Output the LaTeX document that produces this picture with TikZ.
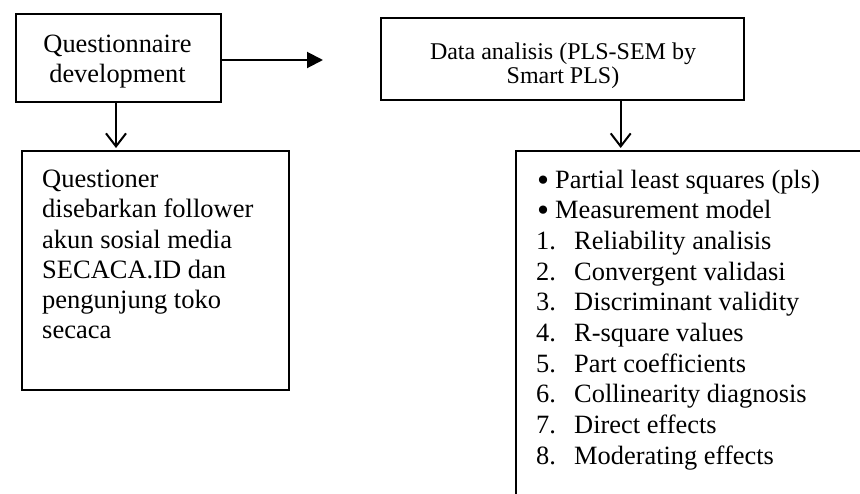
\documentclass[tikz,border=0pt]{standalone}
\usepackage{fontspec}
\setmainfont{Liberation Serif}
\usetikzlibrary{arrows.meta}
\tikzset{
  box/.style={draw, line width=2.4pt, rectangle, inner sep=0pt, anchor=north west},
  txt/.style={inner sep=0pt, anchor=base west, align=left},
  downarr/.style={line width=2pt, -{Straight Barb[length=13pt,width=20pt,line width=2pt]}},
  rightarr/.style={line width=2pt, -{Triangle[length=16pt,width=16pt]}}
}
\newcommand{\bigbul}{\makebox[18pt][l]{\raisebox{-3pt}{\scalebox{1.3}{•}}}}
\begin{document}
\begin{tikzpicture}[x=1pt,y=-1pt]
\path[use as bounding box, clip] (0,0) rectangle (860,493);
% boxes
\node[box, minimum width=205pt, minimum height=88pt] (b1) at (15,13) {};
\node[box, minimum width=267pt, minimum height=239pt] (b2) at (21,150) {};
\node[box, minimum width=363pt, minimum height=82pt] (b3) at (380,17) {};
\node[box, minimum width=400pt, minimum height=400pt] (b4) at (515,150) {};
% texts (base anchor = baseline of the last line)
\node[inner sep=0pt, anchor=base, align=center, font=\fontsize{26.4pt}{30pt}\selectfont] (t1) at (117.5,82.7) {Questionnaire\\development};
\node[txt, font=\fontsize{26.5pt}{30.2pt}\selectfont] (t2) at (42,338.7) {Questioner\\disebarkan follower\\akun sosial media\\SECACA.ID dan\\pengunjung toko\\secaca};
\node[inner sep=0pt, anchor=base, align=center, font=\fontsize{24pt}{24pt}\selectfont] (t3) at (563,83) {Data analisis (PLS-SEM by\\Smart PLS)};
\node[txt, font=\fontsize{26.4pt}{30.7pt}\selectfont] (t4) at (536,464.3) {%
\hspace{1pt}\bigbul Partial least squares (pls)\\
\hspace{1pt}\bigbul Measurement model\\
\makebox[38pt][l]{1.}Reliability analisis\\
\makebox[38pt][l]{2.}Convergent validasi\\
\makebox[38pt][l]{3.}Discriminant validity\\
\makebox[38pt][l]{4.}R-square values\\
\makebox[38pt][l]{5.}Part coefficients\\
\makebox[38pt][l]{6.}Collinearity diagnosis\\
\makebox[38pt][l]{7.}Direct effects\\
\makebox[38pt][l]{8.}Moderating effects};
% connectors
\coordinate (r) at (323,60);
\draw[rightarr] (b1.east |- r) -- (r);
\draw[downarr] (b1.south -| 116,0) -- ([yshift=2pt]b2.north -| 116,0);
\draw[downarr] (b3.south -| 620.7,0) -- ([yshift=2pt]b4.north -| 620.7,0);
\end{tikzpicture}
\end{document}
